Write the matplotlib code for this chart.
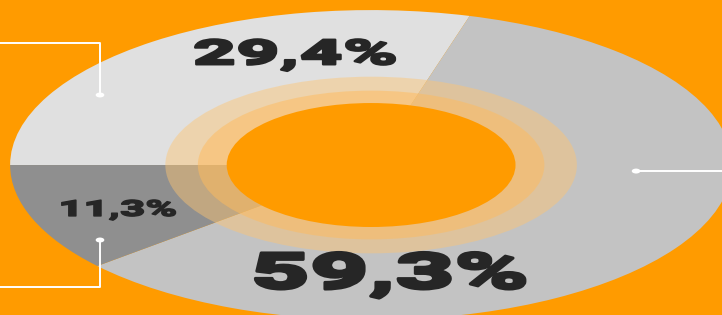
import matplotlib
matplotlib.use("Agg")
import matplotlib.pyplot as plt
from matplotlib.patches import Ellipse
from matplotlib.patheffects import AbstractPathEffect
from matplotlib.transforms import Affine2D

# Data
labels = ["29,4%", "59,3%", "11,3%"]
shares = [29.4, 59.3, 11.3]
colors = ["#e0e0e0", "#c3c3c3", "#8f8f8f"]

ORANGE = "#ff9b00"
TEXT = "#262626"


class Stretch(AbstractPathEffect):
    """Widen glyphs horizontally around their own centre and thicken them a bit."""
    def __init__(self, sx, lw=0.0):
        super().__init__()
        self.sx = sx
        self.lw = lw

    def draw_path(self, renderer, gc, tpath, affine, rgbFace=None):
        ext = tpath.get_extents()
        cx = (ext.x0 + ext.x1) / 2
        t = Affine2D().translate(-cx, 0).scale(self.sx, 1).translate(cx, 0) + affine
        if self.lw:
            gc0 = renderer.new_gc()
            gc0.copy_properties(gc)
            gc0.set_linewidth(self.lw)
            gc0.set_foreground(rgbFace)
            gc0.set_joinstyle("round")
            renderer.draw_path(gc0, tpath, t, rgbFace)
            gc0.restore()
        else:
            renderer.draw_path(gc, tpath, t, rgbFace)


fig = plt.figure(figsize=(7.22, 3.15), dpi=100)
fig.patch.set_facecolor(ORANGE)
ax = fig.add_axes([0, 0, 1, 1])
ax.set_facecolor(ORANGE)

ax.pie(shares, colors=colors, startangle=180, counterclock=False,
       radius=1.0, wedgeprops=dict(linewidth=0))

# translucent rings around the hole
ax.add_patch(Ellipse((0, 0), 2 * 0.57, 2 * 0.57, color="#ffc570", alpha=0.45, lw=0))
ax.add_patch(Ellipse((0, 0), 2 * 0.48, 2 * 0.48, color="#ffbb5c", alpha=0.5, lw=0))
ax.add_patch(Ellipse((0, 0), 2 * 0.40, 2 * 0.40, color=ORANGE, lw=0))

ax.set_aspect("auto")
ax.set_xlim(-1.028, 0.972)
ax.set_ylim(-0.968, 1.065)
ax.axis("off")

# labels
font = dict(family=["Roboto", "DejaVu Sans"], weight="black", color=TEXT,
            ha="center", va="center")
ax.text(-0.21, 0.71, labels[0], fontsize=25, path_effects=[Stretch(2.15, 1.6)], **font)
ax.text(0.053, -0.71, labels[1], fontsize=36, path_effects=[Stretch(2.02, 2.2)], **font)
ax.text(-0.70, -0.29, labels[2], fontsize=16, path_effects=[Stretch(1.95, 1.0)], **font)

# leader lines
lw = 1.4
ax.plot([-1.03, -0.751, -0.751], [0.787, 0.787, 0.452], color="white", lw=lw)
ax.plot([-1.03, -0.751, -0.751], [-0.787, -0.787, -0.484], color="white", lw=lw)
ax.plot([0.734, 0.98], [-0.039, -0.039], color="white", lw=lw)
for x, y in [(-0.751, 0.452), (-0.751, -0.484), (0.734, -0.039)]:
    ax.add_patch(Ellipse((x, y), 0.024, 0.032, color="white", lw=0))

fig.savefig("out.png", dpi=100, facecolor=ORANGE)
